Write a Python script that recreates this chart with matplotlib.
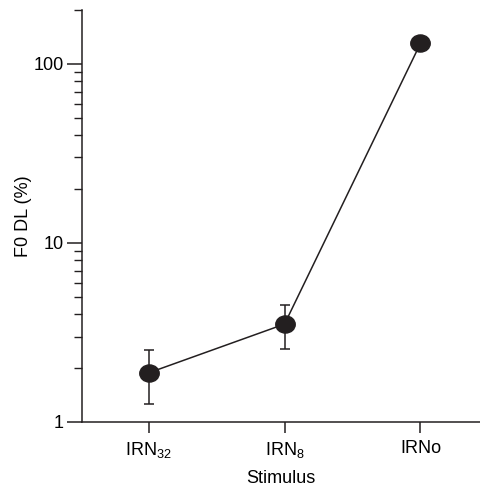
import matplotlib
matplotlib.use("Agg")
import matplotlib.pyplot as plt
from matplotlib.path import Path
from matplotlib.transforms import Affine2D
import numpy as np

# values
stimuli = [r"IRN$_{32}$", r"IRN$_{8}$", "IRNo"]
f0dl = [1.88, 3.52, 130.0]
err_low = [1.26, 2.54, 130.0]
err_high = [2.52, 4.48, 130.0]

plt.rcParams["font.family"] = ["Liberation Sans", "DejaVu Sans"]
plt.rcParams["mathtext.fontset"] = "custom"
plt.rcParams["mathtext.rm"] = "Liberation Sans"
plt.rcParams["mathtext.it"] = "Liberation Sans"
plt.rcParams["mathtext.default"] = "regular"

fig = plt.figure(figsize=(4.81, 4.86), dpi=100)
ax = fig.add_axes([0.1705, 0.1317, 0.828, 0.848])

x = np.arange(len(stimuli))
y = np.array(f0dl)
yerr = np.array([y - np.array(err_low), np.array(err_high) - y])

# slightly flattened dot, like the original
oval = Path.unit_circle().transformed(Affine2D().scale(1.0, 0.88))

ax.errorbar(x, y, yerr=yerr, fmt="none", ecolor="#231f20", elinewidth=1.1,
            capsize=3.5, capthick=1.1, zorder=2)
ax.plot(x, y, color="#231f20", lw=1.1, marker=oval, ms=14,
        mfc="#231f20", mec="#231f20", zorder=3)

ax.set_yscale("log")
ax.set_ylim(1, 200)
ax.set_xlim(-0.49, 2.44)
ax.set_xticks(x)
ax.set_xticklabels(stimuli)
ax.set_yticks([1, 10, 100])
ax.set_yticklabels(["1", "10", "100"])

for side in ("top", "right"):
    ax.spines[side].set_visible(False)
for side in ("left", "bottom"):
    ax.spines[side].set_color("#231f20")
    ax.spines[side].set_linewidth(1.1)

ax.tick_params(axis="y", which="major", length=11, width=1.1, color="#231f20",
               labelsize=13, pad=2)
ax.tick_params(axis="y", which="minor", length=6, width=1.0, color="#231f20")
ax.tick_params(axis="x", which="major", length=8, width=1.1, color="#231f20",
               labelsize=13, pad=5)
ax.tick_params(axis="x", which="minor", length=0)

ax.set_ylabel("F0 DL (%)", fontsize=13, labelpad=1)
ax.set_xlabel("Stimulus", fontsize=13, labelpad=7)

fig.savefig("out.png", dpi=100)
